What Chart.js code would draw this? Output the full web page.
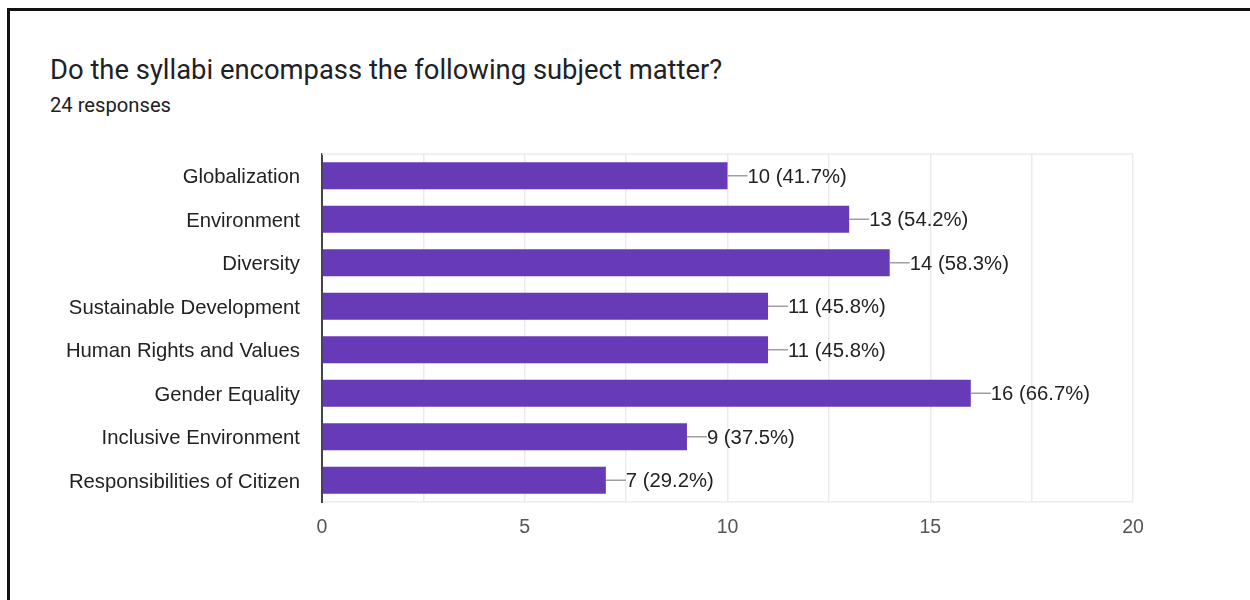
<!DOCTYPE html>
<html>
<head>
<meta charset="utf-8">
<script src="https://cdn.jsdelivr.net/npm/chart.js@4.4.1/dist/chart.umd.min.js"></script>
<style>
  html, body { margin: 0; padding: 0; background: #fff; overflow: hidden; }
  #frame { position: absolute; left: 7px; top: 8px; width: 1400px; height: 800px; border: 3px solid #111; }
  #title { position: absolute; left: 50px; top: 57px; font: 27.4px/27px Roboto, sans-serif; color: #202124; white-space: nowrap; }
  #sub { position: absolute; left: 50px; top: 95px; font: 20.2px/20px Roboto, sans-serif; color: #202124; white-space: nowrap; }
  #wrap { position: absolute; left: 0; top: 0; width: 1250px; height: 600px; }
</style>
</head>
<body>
<div id="frame"></div>
<div id="title">Do the syllabi encompass the following subject matter?</div>
<div id="sub">24 responses</div>
<div id="wrap"><canvas id="syllabus_chart" width="1250" height="600"></canvas></div>
<script>
// 응답 데이터
const topics = ['Globalization', 'Environment', 'Diversity', 'Sustainable Development',
	'Human Rights and Values', 'Gender Equality', 'Inclusive Environment', 'Responsibilities of Citizen']
const counts = [10, 13, 14, 11, 11, 16, 9, 7]
const totalResponses = 24
const xTicks = [0, 5, 10, 15, 20]

// 막대 끝 값 라벨 (선 + 개수 + 비율)
const valueLabels = {
	id: 'valueLabels',
	afterDatasetsDraw(chart) {
		const ctx = chart.ctx
		const meta = chart.getDatasetMeta(0)
		ctx.save()
		ctx.font = '20.3px "Liberation Sans", Arial, sans-serif'
		ctx.textBaseline = 'middle'
		ctx.textAlign = 'left'
		meta.data.forEach((bar, i) => {
			const v = counts[i]
			ctx.strokeStyle = '#9e9e9e'
			ctx.lineWidth = 1.5
			ctx.beginPath()
			ctx.moveTo(bar.x, bar.y)
			ctx.lineTo(bar.x + 20, bar.y)
			ctx.stroke()
			ctx.fillStyle = '#222'
			ctx.fillText(v + ' (' + (v / totalResponses * 100).toFixed(1) + '%)', bar.x + 20, bar.y + 1.5)
		})
		ctx.restore()
	}
}

// 차트 영역 윗선
const topBorder = {
	id: 'topBorder',
	beforeDatasetsDraw(chart) {
		const { ctx, chartArea } = chart
		ctx.save()
		ctx.strokeStyle = '#ebebeb'
		ctx.lineWidth = 1.5
		ctx.beginPath()
		ctx.moveTo(chartArea.left, chartArea.top)
		ctx.lineTo(chartArea.right, chartArea.top)
		ctx.stroke()
		ctx.restore()
	}
}

const ctx = document.getElementById('syllabus_chart').getContext('2d')
const syllabus_chart = new Chart(ctx, {
	type: 'bar',
	data: {
		labels: topics,
		datasets: [{
			data: counts,
			backgroundColor: '#673ab7',
			barPercentage: 0.62,
			categoryPercentage: 1
		}]
	},
	options: {
		indexAxis: 'y',
		responsive: false,
		animation: false,
		layout: { padding: { top: 154, right: 117, bottom: 0, left: 0 } },
		plugins: {
			legend: { display: false },
			tooltip: { enabled: false }
		},
		scales: {
			x: {
				min: 0,
				max: 20,
				afterFit(scale) { scale.height = 98 },
				afterBuildTicks(scale) {
					const t = []
					for (let v = 0; v <= 20; v += 2.5) t.push({ value: v })
					scale.ticks = t
				},
				grid: { color: '#ebebeb', lineWidth: 1.5, drawTicks: false },
				border: { color: '#ebebeb', width: 1.5 },
				ticks: {
					padding: 14,
					color: '#555',
					font: { family: '"Liberation Sans", Arial, sans-serif', size: 19.5 },
					callback: v => xTicks.includes(v) ? v : ''
				}
			},
			y: {
				afterFit(scale) { scale.width = 322 },
				grid: { display: false },
				border: { color: '#444', width: 2 },
				ticks: {
					padding: 14,
					labelOffset: 2,
					color: '#222',
					font: { family: '"Liberation Sans", Arial, sans-serif', size: 20.3 }
				}
			}
		}
	},
	plugins: [topBorder, valueLabels]
})
</script>
</body>
</html>
